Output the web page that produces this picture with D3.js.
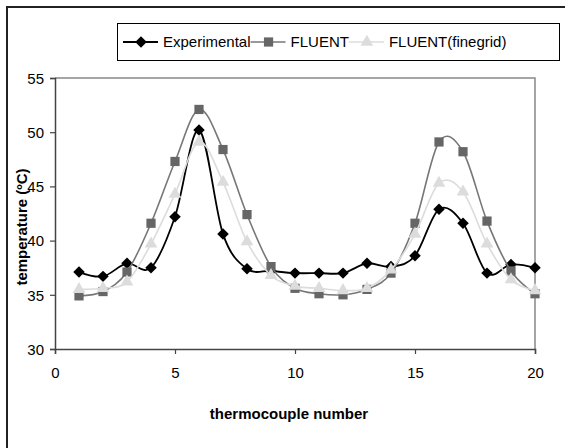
<!DOCTYPE html>
<html>
<head>
<meta charset="utf-8">
<script src="https://cdn.jsdelivr.net/npm/d3@7"></script>
<style>
  body { margin: 0; background: #fff; }
  svg { font-family: "Liberation Sans", Arial, sans-serif; }
</style>
</head>
<body>
<svg width="565" height="448"></svg>
<script>
// thermocouple positions 1..20
var thermocouples = d3.range(1, 21);

// temperatures (ºC)
var experimental = [37.1, 36.7, 37.9, 37.5, 42.2, 50.2, 40.6, 37.4, 37.2, 37.0,
                    37.0, 37.0, 37.9, 37.6, 38.6, 42.9, 41.6, 37.0, 37.8, 37.5];
var fluent = [34.9, 35.3, 37.1, 41.6, 47.3, 52.1, 48.4, 42.4, 37.6, 35.6,
              35.1, 35.0, 35.5, 37.0, 41.6, 49.1, 48.2, 41.8, 37.2, 35.1];
var fluentFine = [35.5, 35.6, 36.2, 39.7, 44.3, 49.1, 45.4, 39.9, 36.8, 35.8,
                  35.6, 35.4, 35.6, 37.3, 40.6, 45.3, 44.5, 39.7, 36.4, 35.4];

var xTicks = [0, 5, 10, 15, 20];
var yTicks = [30, 35, 40, 45, 50, 55];

// diamond = square turned by 45 degrees, like the spreadsheet marker
var series = [
  { name: "Experimental", values: experimental, line: "#000", marker: "#000", symbol: d3.symbolSquare, rotate: 45, size: 66, width: 1.8 },
  { name: "FLUENT", values: fluent, line: "#777", marker: "#666", symbol: d3.symbolSquare, rotate: 0, size: 85, width: 1.6 },
  { name: "FLUENT(finegrid)", values: fluentFine, line: "#dcdcdc", marker: "#dcdcdc", symbol: d3.symbolTriangle, rotate: 0, size: 70, width: 1.6 }
];

var svg = d3.select("svg");

// outer chart frame (only left and top edges are visible)
svg.append("path")
  .attr("d", "M7,448 V7 H565")
  .attr("fill", "none")
  .attr("stroke", "#222")
  .attr("stroke-width", 2);

var plot = { left: 55, right: 535, top: 78, bottom: 349 };

var x = d3.scaleLinear().domain([0, 20]).range([plot.left, plot.right]);
var y = d3.scaleLinear().domain([30, 55]).range([plot.bottom, plot.top]);

// plot area border (top and right)
svg.append("path")
  .attr("d", "M" + plot.left + "," + plot.top + " H" + plot.right + " V" + plot.bottom)
  .attr("fill", "none")
  .attr("stroke", "#888")
  .attr("stroke-width", 1.5);

// axes
var xAxis = svg.append("g")
  .attr("transform", "translate(0," + plot.bottom + ")")
  .call(d3.axisBottom(x).tickValues(xTicks).tickSize(5).tickPadding(13));

var yAxis = svg.append("g")
  .attr("transform", "translate(" + plot.left + ",0)")
  .call(d3.axisLeft(y).tickValues(yTicks).tickSize(5).tickPadding(6));

[xAxis, yAxis].forEach(function (a) {
  a.select(".domain").attr("stroke", "#444").attr("stroke-width", 1.5);
  a.selectAll(".tick line").attr("stroke", "#444").attr("stroke-width", 1.2);
  a.selectAll(".tick text")
    .attr("fill", "#000")
    .style("font-size", "15px")
    .style("font-family", "Liberation Sans, Arial, sans-serif");
});
yAxis.selectAll(".tick text").attr("dy", "0.35em");

// axis titles
svg.append("text")
  .attr("x", (plot.left + plot.right) / 2 - 6)
  .attr("y", 419)
  .attr("text-anchor", "middle")
  .style("font-size", "15px")
  .style("font-weight", "bold")
  .text("thermocouple number");

svg.append("text")
  .attr("transform", "translate(27,227) rotate(-90)")
  .attr("text-anchor", "middle")
  .style("font-size", "15px")
  .style("font-weight", "bold")
  .text("temperature (ºC)");

// smoothed lines, like the spreadsheet's smoothed lines
var line = d3.line()
  .x(function (d, i) { return x(thermocouples[i]); })
  .y(function (d) { return y(d); })
  .curve(d3.curveCardinal.tension(0));

series.forEach(function (s) {
  var g = svg.append("g");
  g.append("path")
    .attr("d", line(s.values))
    .attr("fill", "none")
    .attr("stroke", s.line)
    .attr("stroke-width", s.width);
  g.selectAll("path.marker")
    .data(s.values)
    .enter()
    .append("path")
    .attr("class", "marker")
    .attr("transform", function (d, i) {
      return "translate(" + x(thermocouples[i]) + "," + y(d) + ") rotate(" + s.rotate + ")";
    })
    .attr("d", d3.symbol().type(s.symbol).size(s.size))
    .attr("fill", s.marker);
});

// legend
var legend = svg.append("g");
legend.append("rect")
  .attr("x", 117.5)
  .attr("y", 23.5)
  .attr("width", 442)
  .attr("height", 37)
  .attr("fill", "#fff")
  .attr("stroke", "#000")
  .attr("stroke-width", 1);

var cursor = 123;
var ly = 42;
series.forEach(function (s) {
  var item = legend.append("g");
  item.append("line")
    .attr("x1", cursor).attr("x2", cursor + 35)
    .attr("y1", ly).attr("y2", ly)
    .attr("stroke", s.line)
    .attr("stroke-width", s.width);
  item.append("path")
    .attr("transform", "translate(" + (cursor + 18) + "," + ly + ") rotate(" + s.rotate + ")")
    .attr("d", d3.symbol().type(s.symbol).size(s.size))
    .attr("fill", s.marker);
  var t = item.append("text")
    .attr("x", cursor + 40)
    .attr("y", ly + 5)
    .style("font-size", "15px")
    .text(s.name);
  cursor = cursor + 40 + t.node().getComputedTextLength();
});
</script>
</body>
</html>
